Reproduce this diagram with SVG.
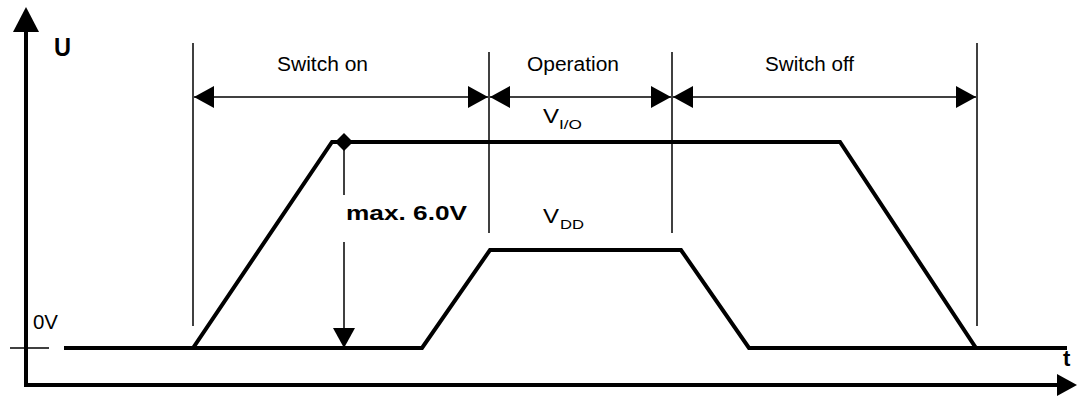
<svg xmlns="http://www.w3.org/2000/svg" width="1077" height="396" viewBox="0 0 1077 396">
<style>
.thin{stroke:#000;stroke-width:1.5;fill:none}
.thick{stroke:#000;stroke-width:4;fill:none;stroke-linejoin:miter}
.lbl{font-family:"Liberation Sans",Arial,sans-serif;fill:#000}
.b{font-weight:bold}
</style>
<defs>
<marker id="ah" markerUnits="userSpaceOnUse" markerWidth="21" markerHeight="22" refX="20" refY="11" orient="auto-start-reverse" viewBox="0 0 21 22">
<path d="M0,0 L20,11 L0,22 z" fill="#000"/>
</marker>
</defs>
<rect width="1077" height="396" fill="#fff"/>
<g id="axes">
<path class="thick" d="M26,32 V385 H1058"/>
<path d="M26,7 L39,32 L13,32 z" fill="#000"/>
<path d="M1077,385 L1057,374 L1057,396 z" fill="#000"/>
<line class="thin" x1="10" y1="348" x2="49" y2="348"/>
<text class="lbl b" x="54" y="56" font-size="26" textLength="17" lengthAdjust="spacingAndGlyphs">U</text>
<text class="lbl" x="33" y="329" font-size="20" textLength="25" lengthAdjust="spacingAndGlyphs">0V</text>
<text class="lbl b" x="1063" y="366" font-size="22">t</text>
</g>
<g id="signals">
<path id="vio" class="thick" d="M64,348 H193 L332,142 H840 L976,348 H1067"/>
<path id="vdd" class="thick" d="M193,348 H422 L490,250 H681 L749,348 H976"/>
<path d="M344,133 L353,142 L344,151 L335,142 z" fill="#000"/>
<text class="lbl" x="543" y="123" font-size="20" textLength="16" lengthAdjust="spacingAndGlyphs">V</text>
<text class="lbl" x="559" y="129" font-size="13" textLength="23" lengthAdjust="spacingAndGlyphs">I/O</text>
<text class="lbl" x="543" y="223" font-size="20" textLength="16" lengthAdjust="spacingAndGlyphs">V</text>
<text class="lbl" x="560" y="229" font-size="13" textLength="24" lengthAdjust="spacingAndGlyphs">DD</text>
</g>
<g id="connectors">
<line class="thin" x1="193" y1="43" x2="193" y2="326"/>
<line class="thin" x1="489" y1="52" x2="489" y2="233"/>
<line class="thin" x1="672" y1="52" x2="672" y2="233"/>
<line class="thin" x1="977" y1="43" x2="977" y2="326"/>
<line class="thin" x1="194" y1="97" x2="488" y2="97" marker-start="url(#ah)" marker-end="url(#ah)"/>
<line class="thin" x1="490" y1="97" x2="671" y2="97" marker-start="url(#ah)" marker-end="url(#ah)"/>
<line class="thin" x1="673" y1="97" x2="976" y2="97" marker-start="url(#ah)" marker-end="url(#ah)"/>
<line class="thin" x1="344" y1="142" x2="344" y2="195"/>
<line class="thin" x1="344" y1="242" x2="344" y2="348" marker-end="url(#ah)"/>
</g>
<g id="labels">
<text class="lbl" x="277" y="71" font-size="19.5" textLength="91" lengthAdjust="spacingAndGlyphs">Switch on</text>
<text class="lbl" x="527" y="71" font-size="19.5" textLength="92" lengthAdjust="spacingAndGlyphs">Operation</text>
<text class="lbl" x="765" y="71" font-size="19.5" textLength="89" lengthAdjust="spacingAndGlyphs">Switch off</text>
<text class="lbl b" x="346" y="220" font-size="21" textLength="121" lengthAdjust="spacingAndGlyphs">max. 6.0V</text>
</g>
</svg>
